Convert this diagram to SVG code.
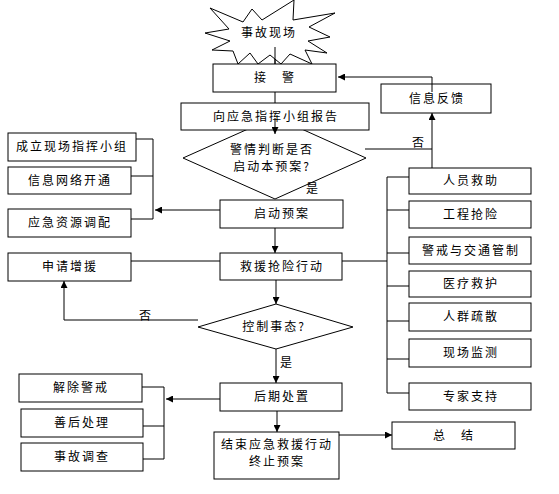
<svg xmlns="http://www.w3.org/2000/svg" width="559" height="494" viewBox="0 0 559 494">
<defs>
<marker id="ah" viewBox="0 0 10 10" refX="10" refY="5" markerWidth="8" markerHeight="7" markerUnits="userSpaceOnUse" orient="auto">
<path d="M0,0 L10,5 L0,10 z" fill="#000"/>
</marker>
</defs>
<style>
.b{fill:#fff;stroke:#000;stroke-width:1}
.t{font-family:"Noto Sans CJK SC","Noto Sans",sans-serif;font-size:12px;letter-spacing:2px;fill:#000;text-anchor:middle}
.l{fill:none;stroke:#000;stroke-width:1}
.a{fill:none;stroke:#000;stroke-width:1;marker-end:url(#ah)}
</style>
<rect width="559" height="494" fill="#fff"/>

<g id="connectors">
<line class="l" x1="275" y1="47" x2="275" y2="64"/>
<line class="l" x1="275" y1="92" x2="275" y2="103"/>
<line class="a" x1="275" y1="200" x2="275" y2="253"/>
<line class="a" x1="276" y1="280" x2="276" y2="304"/>
<line class="a" x1="276" y1="349" x2="276" y2="383"/>
<line class="a" x1="277" y1="411" x2="277" y2="432"/>
<line class="a" x1="339" y1="435" x2="392" y2="435"/>
<!-- feedback -->
<line class="a" x1="432" y1="168" x2="432" y2="113"/>
<polyline class="a" points="432,92 432,77 338,77"/>
<line class="l" x1="365" y1="149" x2="432" y2="149"/>
<!-- right bus -->
<line class="l" x1="342" y1="261" x2="387" y2="261"/>
<line class="l" x1="387" y1="177" x2="387" y2="393"/>
<line class="l" x1="387" y1="177" x2="409" y2="177"/>
<line class="l" x1="387" y1="210" x2="409" y2="210"/>
<line class="l" x1="387" y1="253" x2="409" y2="253"/>
<line class="l" x1="387" y1="286" x2="409" y2="286"/>
<line class="l" x1="387" y1="321" x2="409" y2="321"/>
<line class="l" x1="387" y1="359" x2="409" y2="359"/>
<line class="l" x1="387" y1="393" x2="409" y2="393"/>
<!-- left top bus -->
<line class="l" x1="153" y1="139" x2="153" y2="219"/>
<line class="l" x1="136" y1="139" x2="153" y2="139"/>
<line class="l" x1="131" y1="176" x2="153" y2="176"/>
<line class="l" x1="131" y1="219" x2="153" y2="219"/>
<line class="a" x1="220" y1="210" x2="155" y2="210"/>
<!-- request reinforcement -->
<line class="l" x1="220" y1="261" x2="131" y2="261"/>
<polyline class="a" points="198,320 64,320 64,281"/>
<!-- bottom left bus -->
<line class="l" x1="164" y1="387" x2="164" y2="459"/>
<line class="l" x1="142" y1="387" x2="164" y2="387"/>
<line class="l" x1="143" y1="426" x2="164" y2="426"/>
<line class="l" x1="143" y1="459" x2="164" y2="459"/>
<line class="a" x1="220" y1="399" x2="166" y2="399"/>
</g>

<g id="n-scene">
<polygon class="b" points="210,8 243,22 252,9 262,20 294,0 293,20 335,13 309,27 330,37 308,41 327,53 305,50 312,64 290,54 281,64 270,55 258,64 250,53 238,64 233,51 212,50 230,41 205,33 229,29"/>
<line class="l" x1="275" y1="47" x2="275" y2="64"/>
<text class="t" x="269" y="37">事故现场</text>
</g>
<g id="n-jiejing">
<rect class="b" x="213" y="64" width="123" height="28"/>
<text class="t" x="275" y="82">接　警</text>
</g>
<g id="n-judge">
<polygon class="b" points="275,117 366,158 275,199 183,158"/>
<text class="t" x="272" y="154">警情判断是否</text>
<text class="t" x="272" y="171">启动本预案?</text>
<text class="t" x="313" y="193">是</text>
</g>
<g id="n-report">
<rect class="b" x="181" y="103" width="188" height="27"/>
<text class="t" x="276" y="121">向应急指挥小组报告</text>
<line class="a" x1="275" y1="118" x2="275" y2="134"/>
</g>
<g id="n-feedback">
<rect class="b" x="381" y="84" width="110" height="29"/>
<text class="t" x="437" y="103">信息反馈</text>
<line class="l" x1="432" y1="84" x2="432" y2="92"/>
<text class="t" x="419" y="147">否</text>
</g>
<g id="n-start">
<rect class="b" x="220" y="200" width="123" height="28"/>
<text class="t" x="282" y="218">启动预案</text>
</g>
<g id="n-rescue">
<rect class="b" x="220" y="253" width="122" height="27"/>
<text class="t" x="282" y="271">救援抢险行动</text>
</g>
<g id="n-control">
<polygon class="b" points="276,304 353,327 276,349 198,327"/>
<text class="t" x="274" y="331">控制事态?</text>
<text class="t" x="287" y="367">是</text>
<text class="t" x="146" y="320">否</text>
</g>
<g id="n-after">
<rect class="b" x="220" y="383" width="122" height="28"/>
<text class="t" x="282" y="401">后期处置</text>
</g>
<g id="n-end">
<rect class="b" x="214" y="432" width="125" height="47"/>
<text class="t" x="277" y="449">结束应急救援行动</text>
<text class="t" x="277" y="466">终止预案</text>
</g>
<g id="n-summary">
<rect class="b" x="392" y="422" width="123" height="27"/>
<text class="t" x="454" y="440">总　结</text>
</g>
<g id="n-r1"><rect class="b" x="409" y="168" width="122" height="26"/><text class="t" x="471" y="185">人员救助</text></g>
<g id="n-r2"><rect class="b" x="409" y="201" width="122" height="27"/><text class="t" x="471" y="219">工程抢险</text></g>
<g id="n-r3"><rect class="b" x="409" y="237" width="122" height="27"/><text class="t" x="471" y="255">警戒与交通管制</text></g>
<g id="n-r4"><rect class="b" x="409" y="271" width="122" height="26"/><text class="t" x="471" y="288">医疗救护</text></g>
<g id="n-r5"><rect class="b" x="409" y="303" width="122" height="28"/><text class="t" x="471" y="321">人群疏散</text></g>
<g id="n-r6"><rect class="b" x="409" y="339" width="122" height="28"/><text class="t" x="471" y="357">现场监测</text></g>
<g id="n-r7"><rect class="b" x="409" y="383" width="122" height="27"/><text class="t" x="471" y="401">专家支持</text></g>
<g id="n-l1"><rect class="b" x="8" y="133" width="128" height="28"/><text class="t" x="72" y="151">成立现场指挥小组</text></g>
<g id="n-l2"><rect class="b" x="8" y="167" width="123" height="27"/><text class="t" x="70" y="185">信息网络开通</text></g>
<g id="n-l3"><rect class="b" x="8" y="209" width="123" height="28"/><text class="t" x="70" y="227">应急资源调配</text></g>
<g id="n-l4"><rect class="b" x="8" y="253" width="123" height="28"/><text class="t" x="70" y="271">申请增援</text></g>
<g id="n-b1"><rect class="b" x="19" y="374" width="123" height="28"/><text class="t" x="81" y="392">解除警戒</text></g>
<g id="n-b2"><rect class="b" x="21" y="409" width="122" height="28"/><text class="t" x="82" y="427">善后处理</text></g>
<g id="n-b3"><rect class="b" x="21" y="443" width="122" height="28"/><text class="t" x="82" y="461">事故调查</text></g>
</svg>
